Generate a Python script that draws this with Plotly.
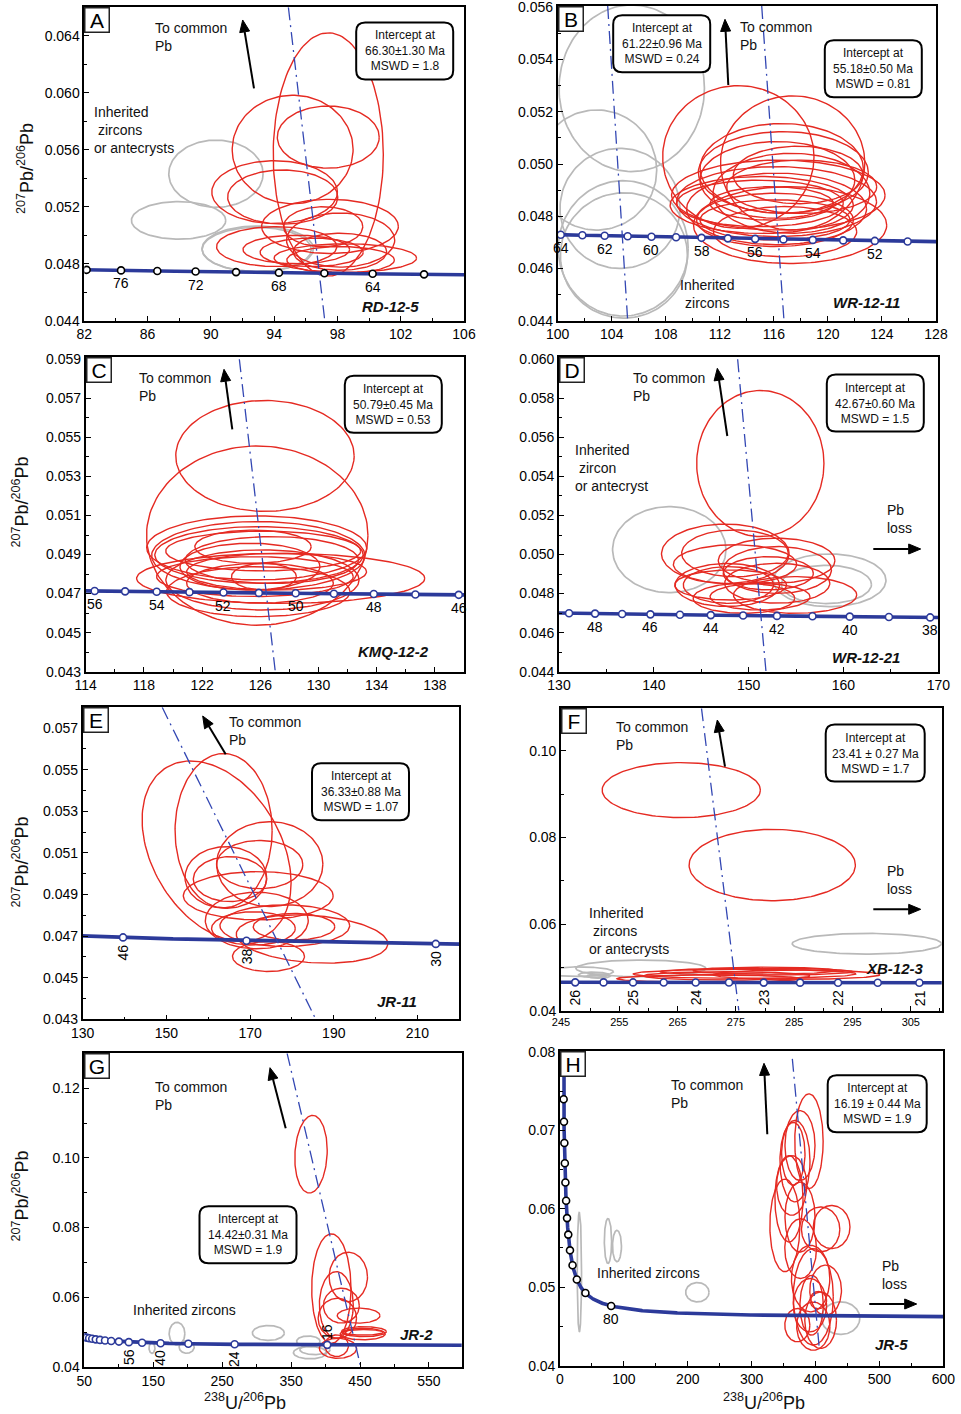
import numpy as np
import plotly.graph_objects as go

W, H = 961, 1414
FONT = "Liberation Sans, Arial, Helvetica, sans-serif"

# U-Pb decay constants and present-day 238U/235U
L238 = 1.55125e-10
L235 = 9.8485e-10
U238_U235 = 137.88

# ---------------- concordia age ticks (Ma) and labelled ages ----------------
A_ticks = [78, 76, 74, 72, 70, 68, 66, 64, 62]
A_labels = [76, 72, 68, 64]
B_ticks = [64, 63, 62, 61, 60, 59, 58, 57, 56, 55, 54, 53, 52, 51]
B_labels = [64, 62, 60, 58, 56, 54, 52]
C_ticks = [56, 55, 54, 53, 52, 51, 50, 49, 48, 47, 46]
C_labels = [56, 54, 52, 50, 48, 46]
D_ticks = [49, 48, 47, 46, 45, 44, 43, 42, 41, 40, 39, 38]
D_labels = [48, 46, 44, 42, 40, 38]
E_ticks = [46, 38, 30]
E_labels = [46, 38, 30]
F_ticks = [26, 25.5, 25, 24.5, 24, 23.5, 23, 22.5, 22, 21.5, 21]
F_labels = [26, 25, 24, 23, 22, 21]
G_ticks = [128, 120, 112, 104, 96, 88, 80, 72, 64, 56, 48, 40, 32, 24, 16]
G_labels = [56, 40, 24]
G_labels_above = [16]
H_ticks = [80, 160, 240, 320, 400, 480, 560, 640, 720, 800, 880, 960, 1040]
H_labels = [80]

# ---------------- discordia lines: two points (238U/206Pb, 207Pb/206Pb) ----------------
A_discordia = [[(94.9, 0.0660), (97.2, 0.0440)]]
B_discordia = [[(103.7, 0.05605), (105.18, 0.0440)], [(115.1, 0.05605), (116.75, 0.0440)]]
C_discordia = [[(124.56, 0.0590), (127.03, 0.0430)]]
D_discordia = [[(148.84, 0.0600), (151.83, 0.0440)]]
E_discordia = [[(149.0, 0.0580), (185.7, 0.0430)]]
F_discordia = [[(269.1, 0.1098), (275.5, 0.0400)]]
G_discordia = [[(344.2, 0.1300), (451.0, 0.0400)]]
H_discordia = [[(363.7, 0.0791), (405.9, 0.0422)]]

# ---------------- error ellipses: (x, y, half-width x, half-height y, rho) ----------------
A_red = [
    (97.42, 0.05567, 3.48, 0.00854, 0), (95.17, 0.05602, 3.82, 0.00381, 0),
    (97.42, 0.05689, 3.22, 0.00218, 0), (94.03, 0.05303, 3.97, 0.00220, 0),
    (94.54, 0.05268, 3.48, 0.00190, 0), (97.53, 0.05062, 4.32, 0.00190, 0),
    (97.10, 0.05060, 2.50, 0.00140, 0), (98.20, 0.04966, 3.42, 0.00190, 0),
    (94.16, 0.04920, 3.80, 0.00140, 0), (95.40, 0.04900, 3.37, 0.00100, 0),
    (96.37, 0.04880, 3.26, 0.00100, 0), (98.50, 0.04840, 4.50, 0.00100, 0),
    (98.16, 0.04884, 2.95, 0.00130, 0), (98.20, 0.04826, 3.40, 0.00094, 0),
]
A_grey = [
    (90.32, 0.05432, 2.98, 0.00236, 0), (87.96, 0.05104, 2.98, 0.00132, 0),
    (92.96, 0.04905, 3.52, 0.00160, 0), (92.90, 0.04900, 3.45, 0.00155, 0),
]
B_red = [
    (113.37, 0.05027, 5.60, 0.00273, 0), (117.39, 0.05004, 5.34, 0.00257, 0),
    (116.58, 0.04983, 6.04, 0.00172, 0), (116.70, 0.04968, 6.29, 0.00156, 0),
    (116.26, 0.04939, 5.73, 0.00147, 0), (116.33, 0.04881, 7.90, 0.00134, 0),
    (116.20, 0.04856, 7.40, 0.00134, 0), (116.20, 0.04828, 6.66, 0.00137, 0),
    (115.10, 0.04843, 6.78, 0.00109, 0), (117.20, 0.04766, 7.15, 0.00147, 0),
    (116.08, 0.04786, 5.55, 0.00077, 0), (115.84, 0.04849, 4.56, 0.00064, 0),
    (117.80, 0.04958, 4.80, 0.00110, 0), (117.30, 0.04888, 5.80, 0.00153, 0),
    (118.06, 0.04913, 5.55, 0.00102, 0), (114.97, 0.04849, 6.17, 0.00089, 0),
    (116.08, 0.04786, 5.80, 0.00102, 0), (116.83, 0.04741, 5.30, 0.00096, 0),
]
B_grey = [
    (105.48, 0.05290, 5.38, 0.00319, 0), (102.89, 0.04977, 4.44, 0.00230, 0),
    (104.61, 0.04830, 4.44, 0.00230, 0), (104.85, 0.04677, 4.81, 0.00259, 0),
    (104.90, 0.04650, 4.70, 0.00240, 0),
]
C_red = [
    (126.32, 0.05405, 6.13, 0.00284, 0), (125.79, 0.04997, 7.61, 0.00459, 0),
    (125.75, 0.04934, 7.56, 0.00164, 0), (125.86, 0.04894, 7.33, 0.00175, 0),
    (125.91, 0.04898, 7.16, 0.00145, 0), (126.20, 0.04918, 6.70, 0.00102, 0),
    (126.80, 0.04872, 5.95, 0.00120, 0), (125.50, 0.04940, 4.00, 0.00085, 0),
    (127.40, 0.04778, 9.90, 0.00128, 0), (126.15, 0.04770, 6.64, 0.00154, 0),
    (125.63, 0.04787, 6.76, 0.00102, 0), (125.98, 0.04753, 5.04, 0.00102, 0),
    (125.86, 0.04710, 6.30, 0.00128, 0), (127.12, 0.04812, 6.18, 0.00094, 0),
    (126.25, 0.04787, 2.23, 0.00068, 0), (125.29, 0.04838, 4.81, 0.00120, 0),
]
C_grey = []
D_red = [
    (151.23, 0.05466, 6.71, 0.00374, 0), (147.54, 0.05004, 6.73, 0.00152, 0),
    (148.56, 0.05006, 5.62, 0.00120, 0), (148.56, 0.04950, 6.50, 0.00100, 0),
    (152.95, 0.04969, 6.15, 0.00115, 0), (153.02, 0.04921, 5.71, 0.00120, 0),
    (147.75, 0.04844, 5.50, 0.00110, 0), (147.86, 0.04844, 4.75, 0.00094, 0),
    (148.10, 0.04844, 5.90, 0.00077, 0), (149.50, 0.04776, 5.36, 0.00077, 0),
    (153.02, 0.04853, 5.54, 0.00102, 0), (154.90, 0.04793, 6.50, 0.00094, 0),
    (152.07, 0.04904, 4.75, 0.00085, 0), (151.20, 0.04784, 5.27, 0.00068, 0),
]
D_grey = [
    (141.63, 0.05025, 5.98, 0.00220, 0), (158.54, 0.04868, 5.94, 0.00135, 0),
    (158.20, 0.04847, 4.75, 0.00098, 0),
]
E_red = [
    (162.00, 0.05108, 17.8, 0.00434, -0.35), (163.67, 0.05207, 11.6, 0.00371, 0),
    (174.70, 0.05046, 12.7, 0.00204, 0), (164.20, 0.04982, 9.75, 0.00148, 0),
    (165.20, 0.04974, 8.76, 0.00108, 0), (172.30, 0.05044, 10.3, 0.00116, 0),
    (171.95, 0.04894, 17.9, 0.00116, 0), (171.60, 0.04775, 12.3, 0.00136, 0),
    (178.30, 0.04750, 15.5, 0.00100, 0), (180.50, 0.04745, 9.75, 0.00064, 0),
    (184.80, 0.04686, 18.1, 0.00116, -0.2), (174.40, 0.04602, 8.6, 0.00072, 0),
    (170.80, 0.04737, 10.0, 0.00080, 0),
]
E_grey = []
F_red = [
    (265.63, 0.09092, 13.57, 0.00635, 0), (281.23, 0.07362, 14.26, 0.00823, 0),
    (276.50, 0.04850, 19.1, 0.00105, 0), (270.30, 0.04740, 15.7, 0.00085, 0),
    (278.50, 0.04900, 16.5, 0.00080, 0), (273.40, 0.04804, 14.3, 0.00096, 0),
    (280.00, 0.04925, 12.3, 0.00080, 0), (285.40, 0.04832, 14.3, 0.00107, 0),
]
F_grey = [
    (297.46, 0.05546, 12.8, 0.00238, 0), (258.70, 0.04977, 11.14, 0.00192, 0),
    (248.00, 0.04900, 6.0, 0.00110, 0), (250.60, 0.04830, 2.6, 0.00060, 0),
    (251.50, 0.04800, 2.0, 0.00050, 0),
]
G_red = [
    (378.9, 0.10105, 23.5, 0.01115, 0.1), (408.4, 0.06249, 28.5, 0.01570, 0),
    (433.0, 0.06584, 27.8, 0.00708, 0), (415.6, 0.05780, 24.6, 0.00957, 0),
    (422.9, 0.05761, 26.0, 0.00500, 0), (417.1, 0.05397, 27.8, 0.00574, 0),
    (447.9, 0.05474, 31.0, 0.00215, 0), (455.6, 0.05014, 32.6, 0.00144, 0),
    (453.9, 0.04947, 32.6, 0.00167, 0), (454.8, 0.04995, 29.0, 0.00080, 0),
    (418.0, 0.04536, 27.0, 0.00287, 0), (416.1, 0.04612, 17.0, 0.00310, 0),
]
G_grey = [
    (184.5, 0.04957, 11.4, 0.00325, 0), (198.5, 0.04574, 10.9, 0.00180, 0),
    (148.2, 0.04545, 4.3, 0.00153, 0), (317.0, 0.04976, 23.2, 0.00215, 0),
    (375.0, 0.04737, 17.0, 0.00153, 0), (377.4, 0.04411, 24.0, 0.00177, 0),
    (384.7, 0.04500, 22.0, 0.00144, 0),
]
H_red = [
    (389.7, 0.06860, 22.2, 0.00604, 0), (367.8, 0.06606, 23.5, 0.00519, 0),
    (365.2, 0.06700, 18.3, 0.00400, 0), (358.4, 0.06127, 22.0, 0.00550, 0),
    (352.0, 0.05788, 23.5, 0.00590, 0), (375.7, 0.05894, 23.5, 0.00445, 0),
    (408.0, 0.05737, 30.0, 0.00286, 0), (425.2, 0.05767, 28.7, 0.00275, 0),
    (376.7, 0.05492, 24.8, 0.00380, 0), (392.3, 0.05110, 30.0, 0.00424, 0),
    (396.5, 0.04877, 31.3, 0.00614, 0), (393.9, 0.04771, 18.3, 0.00381, 0),
    (415.8, 0.04962, 24.8, 0.00320, 0), (371.5, 0.04517, 19.6, 0.00212, 0),
    (396.5, 0.04504, 26.0, 0.00307, 0), (408.0, 0.04580, 24.8, 0.00360, 0),
    (391.3, 0.04771, 26.0, 0.00340, 0), (404.3, 0.04835, 13.0, 0.00110, 0),
    (375.7, 0.06805, 23.5, 0.00445, 0), (362.6, 0.06297, 23.5, 0.00380, 0),
]
H_grey = [
    (30.3, 0.05195, 3.4, 0.00763, 0), (75.1, 0.05589, 5.7, 0.00286, 0),
    (89.2, 0.05525, 7.0, 0.00200, 0), (215.0, 0.04936, 18.3, 0.00123, 0),
    (439.3, 0.04606, 30.0, 0.00208, 0),
]

# ---------------- panel frames (pixel boxes), axis ranges and ticks ----------------
PANELS = {
    "A": dict(box=(84.3, 7.3, 464.0, 320.7), xr=(82, 106), yr=(0.044, 0.066),
              xt=(82, 4, 2), yt=(0.044, 0.004, 0.002), yfmt=".3f", edge="black",
              ticks=A_ticks, labels=A_labels, disc=A_discordia, red=A_red, grey=A_grey),
    "B": dict(box=(557.7, 6.0, 936.0, 320.7), xr=(100, 128), yr=(0.044, 0.05605),
              xt=(100, 4, 2), yt=(0.044, 0.002, 0.001), yfmt=".3f", edge="#2c3a9a",
              ticks=B_ticks, labels=B_labels, disc=B_discordia, red=B_red, grey=B_grey),
    "C": dict(box=(85.7, 357.3, 464.0, 671.7), xr=(114, 140), yr=(0.043, 0.0591),
              xt=(114, 4, 2), yt=(0.043, 0.002, 0.001), yfmt=".3f", edge="#2c3a9a",
              ticks=C_ticks, labels=C_labels, disc=C_discordia, red=C_red, grey=C_grey),
    "D": dict(box=(559.0, 357.3, 938.3, 671.7), xr=(130, 170), yr=(0.044, 0.0601),
              xt=(130, 10, 5), yt=(0.044, 0.002, 0.001), yfmt=".3f", edge="#2c3a9a",
              ticks=D_ticks, labels=D_labels, disc=D_discordia, red=D_red, grey=D_grey),
    "E": dict(box=(82.7, 707.3, 459.3, 1019.3), xr=(130, 220), yr=(0.043, 0.058),
              xt=(130, 20, 10), yt=(0.043, 0.002, 0.001), yfmt=".3f", edge="#2c3a9a",
              ticks=E_ticks, labels=E_labels, disc=E_discordia, red=E_red, grey=E_grey,
              rot=True),
    "F": dict(box=(561.0, 708.3, 941.7, 1010.7), xr=(245, 310.3), yr=(0.04, 0.1098),
              xt=(245, 10, 5), yt=(0.04, 0.02, 0.01), yfmt=".2f", edge="#2c3a9a",
              ticks=F_ticks, labels=F_labels, disc=F_discordia, red=F_red, grey=F_grey,
              rot=True, xfont=11),
    "G": dict(box=(84.3, 1053.3, 461.7, 1367.0), xr=(50, 597.5), yr=(0.04, 0.130),
              xt=(50, 100, 50), yt=(0.04, 0.02, 0.01), yfmt=".2f", edge="#2c3a9a",
              ticks=G_ticks, labels=G_labels, disc=G_discordia, red=G_red, grey=G_grey,
              rot=True),
    "H": dict(box=(560.0, 1051.0, 943.3, 1365.7), xr=(0, 600), yr=(0.04, 0.0801),
              xt=(0, 100, 50), yt=(0.04, 0.01, 0.005), yfmt=".2f", edge="black",
              ticks=H_ticks, labels=H_labels, disc=H_discordia, red=H_red, grey=H_grey),
}

CONC_BLUE = "#2c3a9a"
DISC_BLUE = "#3347b3"
RED = "#e52a22"
GREY = "#b9b9b9"


def tera_wasserburg(age_ma):
    """Concordia point (238U/206Pb, 207Pb/206Pb) for an age in Ma."""
    t = np.asarray(age_ma, dtype=float) * 1e6
    e8 = np.expm1(L238 * t)
    e5 = np.expm1(L235 * t)
    return 1.0 / e8, e5 / e8 / U238_U235


def age_at(x):
    return np.log1p(1.0 / x) / L238 / 1e6


def ellipse_xy(items, n=140):
    th = np.linspace(0, 2 * np.pi, n)
    xs, ys = [], []
    for cx, cy, rx, ry, rho in items:
        xs += list(cx + rx * np.cos(th)) + [None]
        ys += list(cy + ry * (rho * np.cos(th) + np.sqrt(1 - rho ** 2) * np.sin(th))) + [None]
    return xs, ys


def pp(x, y):
    """pixel position -> paper coordinates"""
    return x / W, 1 - y / H


fig = go.Figure()
annotations = []
shapes = []

for i, key in enumerate("ABCDEFGH"):
    p = PANELS[key]
    n = "" if i == 0 else str(i + 1)
    xa, ya = "x" + n, "y" + n
    l, t, r, b = p["box"]
    xspan = p["xr"][1] - p["xr"][0]
    yspan = p["yr"][1] - p["yr"][0]
    axis_common = dict(showgrid=False, zeroline=False, showline=True, linecolor="black",
                       linewidth=1.6, mirror=True, ticks="inside", ticklen=5, tickwidth=1.3,
                       tickcolor="black", automargin=False, ticklabeloverflow="allow")
    fig.update_layout(**{
        "xaxis" + n: dict(domain=[l / W, r / W], anchor=ya,
                          range=[p["xr"][0] - 1e-6 * xspan, p["xr"][1] + 1e-6 * xspan],
                          tickmode="linear", tick0=p["xt"][0], dtick=p["xt"][1],
                          minor=dict(dtick=p["xt"][2], tick0=p["xt"][0], ticks="inside",
                                     ticklen=3, tickcolor="black", tickwidth=1),
                          tickfont=dict(family=FONT, size=p.get("xfont", 14), color="black"),
                          **axis_common),
        "yaxis" + n: dict(domain=[1 - b / H, 1 - t / H], anchor=xa,
                          range=[p["yr"][0] - 1e-6 * yspan, p["yr"][1] + 1e-6 * yspan],
                          tickmode="linear", tick0=p["yt"][0], dtick=p["yt"][1],
                          tickformat=p["yfmt"],
                          minor=dict(dtick=p["yt"][2], tick0=p["yt"][0], ticks="inside",
                                     ticklen=3, tickcolor="black", tickwidth=1),
                          tickfont=dict(family=FONT, size=14, color="black"),
                          **axis_common),
    })

    # grey (inherited) and red ellipses
    if p["grey"]:
        ex, ey = ellipse_xy(p["grey"])
        fig.add_trace(go.Scatter(x=ex, y=ey, mode="lines", xaxis=xa, yaxis=ya,
                                 line=dict(color=GREY, width=1.7), hoverinfo="skip"))
    ex, ey = ellipse_xy(p["red"])
    fig.add_trace(go.Scatter(x=ex, y=ey, mode="lines", xaxis=xa, yaxis=ya,
                             line=dict(color=RED, width=1.4), hoverinfo="skip"))

    # concordia curve
    a_lo = age_at(p["xr"][1]) * 0.97
    a_hi = min(age_at(max(p["xr"][0], 0.6)) * 1.03, 4000)
    ages = np.geomspace(a_lo, a_hi, 900)
    cx, cy = tera_wasserburg(ages)
    fig.add_trace(go.Scatter(x=cx, y=cy, mode="lines", xaxis=xa, yaxis=ya,
                             line=dict(color=CONC_BLUE, width=3.6), hoverinfo="skip"))
    tx, ty = tera_wasserburg(p["ticks"])
    fig.add_trace(go.Scatter(x=tx, y=ty, mode="markers", xaxis=xa, yaxis=ya,
                             marker=dict(symbol="circle", size=7, color="white",
                                         line=dict(color=p["edge"], width=1.6)),
                             hoverinfo="skip"))

    # discordia lines
    for (x0, y0), (x1, y1) in p["disc"]:
        fig.add_trace(go.Scatter(x=[x0, x1], y=[y0, y1], mode="lines", xaxis=xa, yaxis=ya,
                                 line=dict(color=DISC_BLUE, width=1.3,
                                           dash="13px,5px,2px,5px"),
                                 hoverinfo="skip"))

    # concordia age labels
    rot = p.get("rot", False)
    lx, ly = tera_wasserburg(p["labels"])
    for age, x, y in zip(p["labels"], lx, ly):
        annotations.append(dict(x=x, y=y, xref=xa, yref=ya, text=f"{age:g}", showarrow=False,
                                textangle=-90 if rot else 0, xanchor="center", yanchor="middle",
                                yshift=-15 if rot else -13,
                                font=dict(family=FONT, size=14, color="black")))

    # panel letter
    px0, py0 = pp(l, t)
    annotations.append(dict(x=px0, y=py0, xref="paper", yref="paper", text=key,
                            showarrow=False, xanchor="left", yanchor="top",
                            width=21, height=21, borderpad=1, bordercolor="#222",
                            borderwidth=1.5, bgcolor="white",
                            font=dict(family=FONT, size=21, color="black")))

# labels that sit above the curve in G
gx, gy = tera_wasserburg(G_labels_above)
for age, x, y in zip(G_labels_above, gx, gy):
    annotations.append(dict(x=x, y=y, xref="x7", yref="y7", text=f"{age:g}", showarrow=False,
                            textangle=-90, xanchor="center", yanchor="middle", yshift=13,
                            font=dict(family=FONT, size=14, color="black")))


def text(x, y, s, size=14, anchor="left", **kw):
    X, Y = pp(x, y)
    annotations.append(dict(x=X, y=Y, xref="paper", yref="paper", text=s, showarrow=False,
                            xanchor=anchor, yanchor="middle", align=anchor,
                            font=dict(family=FONT, size=size, color="#111"), **kw))


def arrow(tail, head, length=12.0, half=5.0):
    """black arrow drawn as a stem plus a filled triangular head (pixel positions)"""
    tx, ty = tail
    hx, hy = head
    d = np.hypot(hx - tx, hy - ty)
    ux, uy = (hx - tx) / d, (hy - ty) / d
    bx, by = hx - length * ux, hy - length * uy
    nx, ny = -uy, ux
    X0, Y0 = pp(tx, ty)
    X1, Y1 = pp(bx, by)
    shapes.append(dict(type="line", x0=X0, y0=Y0, x1=X1, y1=Y1, xref="paper", yref="paper",
                       line=dict(color="black", width=2), layer="above"))
    pts = [pp(hx, hy), pp(bx + half * nx, by + half * ny), pp(bx - half * nx, by - half * ny)]
    path = "M " + " L ".join(f"{a:.6f},{b:.6f}" for a, b in pts) + " Z"
    shapes.append(dict(type="path", path=path, xref="paper", yref="paper",
                       line=dict(color="black", width=1), fillcolor="black", layer="above"))


def intercept_box(cx, cy, lines, w=97, h=57, r=9):
    x0, x1, y0, y1 = cx - w / 2, cx + w / 2, cy - h / 2, cy + h / 2

    def P(x, y):
        X, Y = pp(x, y)
        return f"{X:.6f},{Y:.6f}"

    path = (f"M {P(x0 + r, y0)} L {P(x1 - r, y0)} Q {P(x1, y0)} {P(x1, y0 + r)} "
            f"L {P(x1, y1 - r)} Q {P(x1, y1)} {P(x1 - r, y1)} L {P(x0 + r, y1)} "
            f"Q {P(x0, y1)} {P(x0, y1 - r)} L {P(x0, y0 + r)} Q {P(x0, y0)} {P(x0 + r, y0)} Z")
    shapes.append(dict(type="path", path=path, xref="paper", yref="paper",
                       line=dict(color="black", width=2), fillcolor="white", layer="above"))
    text(cx, cy, "<br>".join(lines), size=12, anchor="center")


def sample(x, y, s):
    text(x, y, f"<b><i>{s}</i></b>", size=15, anchor="center")


# ---- A ----
text(152.7, 37.2, "To common<br>Pb")
arrow((254.0, 88.3), (242.7, 20.0))
intercept_box(404.7, 51.0, ["Intercept at", "66.30±1.30 Ma", "MSWD = 1.8"])
text(92.3, 129.7, "Inherited<br>&nbsp;zircons<br>or antecrysts")
sample(390.0, 306.7, "RD-12-5")
# ---- B ----
text(738.3, 35.5, "To common<br>Pb")
arrow((728.3, 85.0), (725.0, 19.3))
intercept_box(661.7, 43.8, ["Intercept at", "61.22±0.96 Ma", "MSWD = 0.24"])
intercept_box(873.3, 68.7, ["Intercept at", "55.18±0.50 Ma", "MSWD = 0.81"])
text(706.7, 293.8, "Inherited<br>zircons", anchor="center")
sample(866.7, 302.7, "WR-12-11")
# ---- C ----
text(136.7, 387.2, "To common<br>Pb")
arrow((232.3, 429.3), (224.0, 369.3))
intercept_box(393.3, 404.3, ["Intercept at", "50.79±0.45 Ma", "MSWD = 0.53"])
sample(393.3, 651.7, "KMQ-12-2")
# ---- D ----
text(631.0, 387.2, "To common<br>Pb")
arrow((727.3, 436.0), (717.3, 368.3))
intercept_box(875.3, 403.0, ["Intercept at", "42.67±0.60 Ma", "MSWD = 1.5"])
text(573.3, 468.0, "Inherited<br>&nbsp;zircon<br>or antecryst")
text(885.0, 518.8, "Pb<br>loss")
arrow((873.3, 549.0), (920.7, 549.0))
sample(866.0, 657.3, "WR-12-21")
# ---- E ----
text(226.7, 731.2, "To common<br>Pb")
arrow((225.7, 754.3), (202.7, 716.0))
intercept_box(360.5, 791.7, ["Intercept at", "36.33±0.88 Ma", "MSWD = 1.07"])
sample(396.7, 1001.7, "JR-11")
# ---- F ----
text(614.0, 736.2, "To common<br>Pb")
arrow((725.0, 766.7), (717.3, 720.0))
intercept_box(875.2, 753.0, ["Intercept at", "23.41 ± 0.27 Ma", "MSWD = 1.7"], w=99)
text(586.7, 930.7, "Inherited<br>&nbsp;zircons<br>or antecrysts")
text(885.0, 879.8, "Pb<br>loss")
arrow((873.3, 909.3), (920.7, 909.3))
sample(895.0, 968.3, "XB-12-3")
# ---- G ----
text(152.7, 1096.3, "To common<br>Pb")
arrow((285.7, 1128.3), (270.0, 1067.7))
intercept_box(248.0, 1234.8, ["Intercept at", "14.42±0.31 Ma", "MSWD = 1.9"])
text(184.0, 1310.0, "Inherited zircons", anchor="center")
sample(416.7, 1334.3, "JR-2")
# ---- H ----
text(669.0, 1093.8, "To common<br>Pb")
arrow((767.3, 1134.3), (764.0, 1063.3))
intercept_box(877.2, 1103.7, ["Intercept at", "16.19 ± 0.44 Ma", "MSWD = 1.9"], w=99)
text(648.3, 1273.3, "Inherited zircons", anchor="center")
text(880.0, 1274.5, "Pb<br>loss")
arrow((869.3, 1304.0), (916.7, 1304.0))
sample(891.7, 1344.3, "JR-5")

# axis titles
YT = "<sup>207</sup>Pb/<sup>206</sup>Pb"
XT = "<sup>238</sup>U/<sup>206</sup>Pb"
for x, y in [(25.5, 168.5), (21.0, 502.5), (21.0, 862.5), (21.0, 1196.5)]:
    X, Y = pp(x, y)
    annotations.append(dict(x=X, y=Y, xref="paper", yref="paper", text=YT, showarrow=False,
                            textangle=-90, xanchor="center", yanchor="middle",
                            font=dict(family=FONT, size=18, color="#111")))
for x, y in [(245.0, 1401.0), (763.5, 1401.0)]:
    X, Y = pp(x, y)
    annotations.append(dict(x=X, y=Y, xref="paper", yref="paper", text=XT, showarrow=False,
                            xanchor="center", yanchor="middle",
                            font=dict(family=FONT, size=18, color="#111")))

fig.update_layout(template="none", width=W, height=H, autosize=False,
                  margin=dict(l=0, r=0, t=0, b=0, pad=0),
                  paper_bgcolor="white", plot_bgcolor="white", showlegend=False,
                  annotations=annotations, shapes=shapes,
                  font=dict(family=FONT, color="black"))

# page without the default body margin, so the figure fills the window exactly
page_css = ("document.documentElement.style.margin='0';document.body.style.margin='0';"
            "document.body.style.padding='0';document.body.style.overflow='hidden';")
fig.write_html("out.html", post_script=page_css)
